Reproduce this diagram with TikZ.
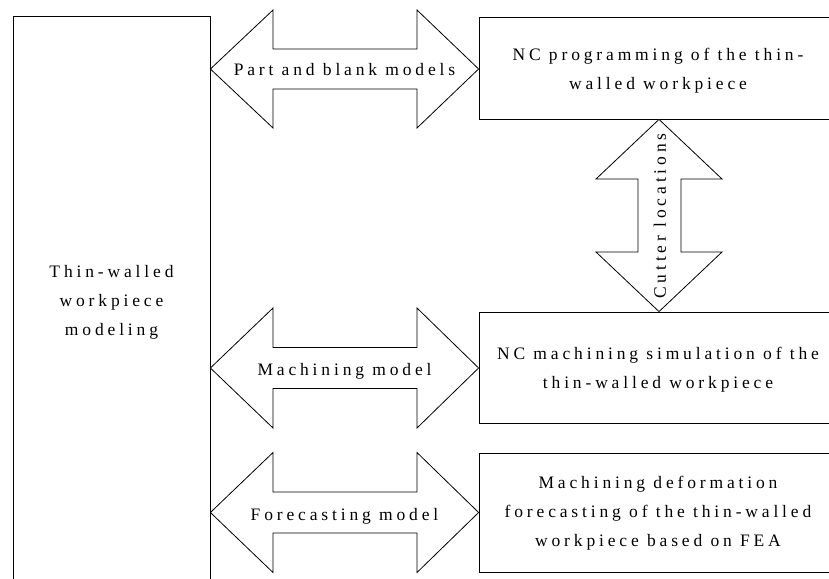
\documentclass[tikz,border=0pt]{standalone}
\usepackage{fontspec}
\setmainfont{Liberation Serif}[LetterSpace=22]
\begin{document}
\begin{tikzpicture}[x=1pt,y=-1pt,
  line width=0.8pt,
  txt/.style={font=\fontsize{17.5}{29}\selectfont, align=center, inner sep=0pt},
  boxnode/.style={draw, rectangle, inner sep=0pt},
  arrowshape/.style={draw, fill=white, line join=miter},
  albl/.style={font=\fontsize{17.5}{29}\selectfont, inner sep=0pt, anchor=base}]
\useasboundingbox (0,0) rectangle (829,578);
\clip (0,0) rectangle (829,578);
% boxes
\node[boxnode, minimum width=197pt, minimum height=566pt] (model) at (111.5,299) {};
\node[boxnode, minimum width=358pt, minimum height=102pt] (nc) at (658,68) {};
\node[boxnode, minimum width=358pt, minimum height=111pt] (sim) at (658,367.5) {};
\node[boxnode, minimum width=358pt, minimum height=119pt] (fea) at (658,512.5) {};
\node[txt] (modelt) at ([yshift=-3pt]model.center) {Thin-walled\\workpiece\\modeling};
\node[txt] (nct) at ([yshift=-3pt]nc.center) {NC programming of the thin-\\walled workpiece};
\node[txt] (simt) at ([yshift=-2pt]sim.center) {NC machining simulation of the\\thin-walled workpiece};
\node[txt] (feat) at ([yshift=-1pt]fea.center) {Machining deformation\\forecasting of the thin-walled\\workpiece based on FEA};
% horizontal double arrows: #1 center y, #2 head half, #3 shaft half
\newcommand\hdarrow[3]{%
  \draw[arrowshape] (model.east |- 0,#1) -- (273,{#1-#2}) -- (273,{#1-#3}) -- (417,{#1-#3})
    -- (417,{#1-#2}) -- (nc.west |- 0,#1) -- (417,{#1+#2}) -- (417,{#1+#3})
    -- (273,{#1+#3}) -- (273,{#1+#2}) -- cycle;}
\hdarrow{69}{59}{20}
\hdarrow{368}{60}{20.5}
\hdarrow{512.5}{60}{20.5}
\node[albl] (l1) at (344.5,75.5) {Part and blank models};
\node[albl] (l2) at (344.5,375) {Machining model};
\node[albl] (l3) at (344.5,520) {Forecasting model};
% vertical double arrow
\draw[arrowshape] (nc.south -| 659,0) -- (722,179) -- (681,179) -- (681,252) -- (722,252)
  -- (sim.north -| 659,0) -- (596,252) -- (638,252) -- (638,179) -- (596,179) -- cycle;
\node[font=\fontsize{17.5}{29}\selectfont, inner sep=0pt, rotate=90] (l4) at (660,216) {Cutter locations};
\end{tikzpicture}
\end{document}
